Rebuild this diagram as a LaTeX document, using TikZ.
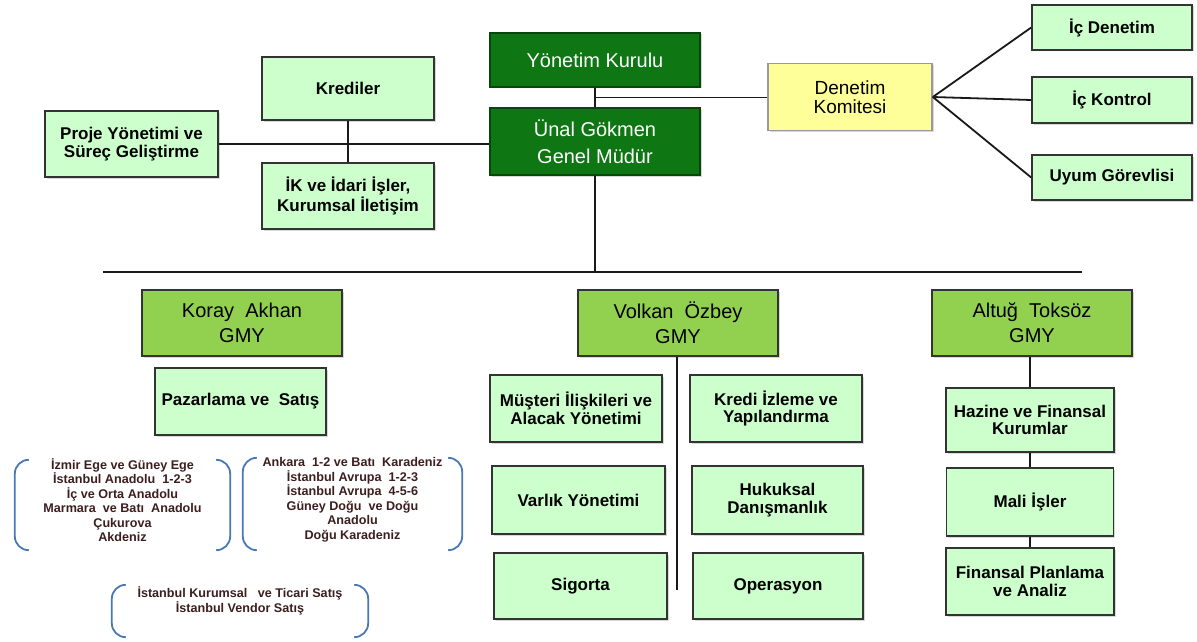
\documentclass[tikz,border=0pt]{standalone}
\usepackage{fontspec}
\setmainfont{Liberation Sans}
\usetikzlibrary{shadows,calc}
\definecolor{koyuyesil}{RGB}{14,118,18}
\definecolor{acikyesil}{RGB}{204,255,204}
\definecolor{gmyyesil}{RGB}{146,208,80}
\definecolor{komsari}{RGB}{255,255,153}
\definecolor{parantez}{RGB}{74,120,180}
\definecolor{bolgeyazi}{RGB}{60,30,30}
\tikzset{
  kutu/.style={draw=black!80, line width=1.6pt, align=center, inner sep=1pt,
    drop shadow={shadow xshift=1.5pt, shadow yshift=-1.5pt, fill=black!30}},
  birim/.style={kutu, fill=acikyesil, font=\fontsize{17}{17.5}\selectfont\bfseries},
  ust/.style={kutu, fill=koyuyesil, draw=koyuyesil!60!black, text=white, font=\fontsize{20}{27}\selectfont},
  gmy/.style={kutu, fill=gmyyesil, minimum width=200, minimum height=66, font=\fontsize{20}{25}\selectfont},
  komite/.style={kutu, fill=komsari, draw=black!40, font=\fontsize{19}{19}\selectfont},
  cerceve/.style={inner sep=0pt},
  bolge/.style={align=center, text=bolgeyazi, font=\fontsize{12.6}{14.5}\selectfont\bfseries},
  parline/.style={draw=parantez, line width=1.8pt, rounded corners=14},
  hat/.style={draw=black!90, line width=1.8pt}
}
\begin{document}
\begin{tikzpicture}[x=1pt, y=-1pt]
  \useasboundingbox (0,0) rectangle (1197,642);
  % ust yonetim
  \node[ust, minimum width=210, minimum height=54] (yk) at (595,60) {Yönetim Kurulu};
  \node[ust, minimum width=210, minimum height=67] (gm) at (595,141.5) {Ünal Gökmen\\Genel Müdür};
  \node[birim, minimum width=172, minimum height=63] (kred) at (348,88.5) {Krediler};
  \node[birim, minimum width=173, minimum height=66] (proje) at (131.5,144) {Proje Yönetimi ve\\Süreç Geliştirme};
  \node[birim, minimum width=172, minimum height=66] (ik) at (348,196) {İK ve İdari İşler,\\Kurumsal İletişim};
  \node[komite, minimum width=164, minimum height=67] (dk) at (850,97) {Denetim\\Komitesi};
  \node[birim, minimum width=160, minimum height=45] (icd) at (1112,27.5) {İç Denetim};
  \node[birim, minimum width=160, minimum height=46] (ick) at (1112,100) {İç Kontrol};
  \node[birim, minimum width=160, minimum height=45] (uyum) at (1112,177.5) {Uyum Görevlisi};

  \coordinate (bl) at (103,272);
  \coordinate (br) at (1082,272);
  \coordinate (ykgm) at ($(yk.south)!0.5!(gm.north)$);

  \draw[hat] (yk.south) -- (gm.north);
  \draw[hat] (ykgm) -- (ykgm -| dk.west);
  \draw[hat] (proje.east) -- (proje.east -| gm.west);
  \draw[hat] (kred.south) -- (ik.north);
  \draw[hat] (dk.east) -- (icd.west);
  \draw[hat] (dk.east) -- (ick.west);
  \draw[hat] (dk.east) -- (uyum.west);
  \draw[hat] (gm.south) -- (gm.south |- bl);
  \draw[hat] (bl) -- (br);

  % GMY kutulari
  \node[gmy] (koray) at (242,323) {Koray\ \ Akhan\\GMY};
  \node[gmy] (volkan) at (678,323) {Volkan\ \ Özbey\\GMY};
  \node[gmy] (altug) at (1032,323) {Altuğ\ \ Toksöz\\GMY};

  % Koray Akhan
  \node[birim, minimum width=171, minimum height=67] (paz) at (240.5,401.5) {Pazarlama ve\ \ Satış};
  \node[cerceve, minimum width=215, minimum height=90] (bol1) at (122.5,505) {};
  \node[cerceve, minimum width=219, minimum height=92] (bol2) at (352.5,504) {};
  \node[cerceve, minimum width=256, minimum height=52] (bol3) at (240,611) {};
  \node[bolge] (bol1y) at (122.5,500)
    {İzmir Ege ve Güney Ege\\İstanbul Anadolu\ \ 1-2-3\\İç ve Orta Anadolu\\Marmara\ \ ve Batı\ \ Anadolu\\Çukurova\\Akdeniz};
  \node[bolge] (bol2y) at (352.5,500)
    {Ankara\ \ 1-2 ve Batı\ \ Karadeniz\\İstanbul Avrupa\ \ 1-2-3\\İstanbul Avrupa\ \ 4-5-6\\Güney Doğu\ \ ve Doğu\\Anadolu\\Doğu Karadeniz};
  \node[bolge] (bol3y) at (240,601)
    {İstanbul Kurumsal\ \ \ ve Ticari Satış\\İstanbul Vendor Satış};
  \foreach \b in {bol1,bol2,bol3}{
    \draw[parline] ([xshift=14]\b.north west) -- (\b.north west) -- (\b.south west) -- ([xshift=14]\b.south west);
    \draw[parline] ([xshift=-14]\b.north east) -- (\b.north east) -- (\b.south east) -- ([xshift=-14]\b.south east);
  }

  % Volkan Ozbey
  \coordinate (vend) at (677,590);
  \draw[hat] (volkan.south -| vend) -- (vend);
  \node[birim, minimum width=172, minimum height=67] (mus) at (576,408.5) {Müşteri İlişkileri ve\\Alacak Yönetimi};
  \node[birim, minimum width=172, minimum height=67] (kiy) at (776,408.5) {Kredi İzleme ve\\Yapılandırma};
  \node[birim, minimum width=173, minimum height=68] (varlik) at (578.5,500) {Varlık Yönetimi};
  \node[birim, minimum width=171, minimum height=68] (huk) at (777.5,500) {Hukuksal\\Danışmanlık};
  \node[birim, minimum width=173, minimum height=66] (sig) at (580.5,586) {Sigorta};
  \node[birim, minimum width=170, minimum height=66] (ops) at (778,586) {Operasyon};

  % Altug Toksoz
  \node[birim, minimum width=168, minimum height=64] (haz) at (1030,420) {Hazine ve Finansal\\Kurumlar};
  \node[birim, minimum width=167, minimum height=68] (mali) at (1030,502) {Mali İşler};
  \node[birim, minimum width=168, minimum height=67] (fin) at (1030,581.5) {Finansal Planlama\\ve Analiz};
  \draw[hat] (altug.south -| haz.north) -- (haz.north);
  \draw[hat] (haz.south) -- (mali.north);
  \draw[hat] (mali.south) -- (fin.north);
\end{tikzpicture}
\end{document}
